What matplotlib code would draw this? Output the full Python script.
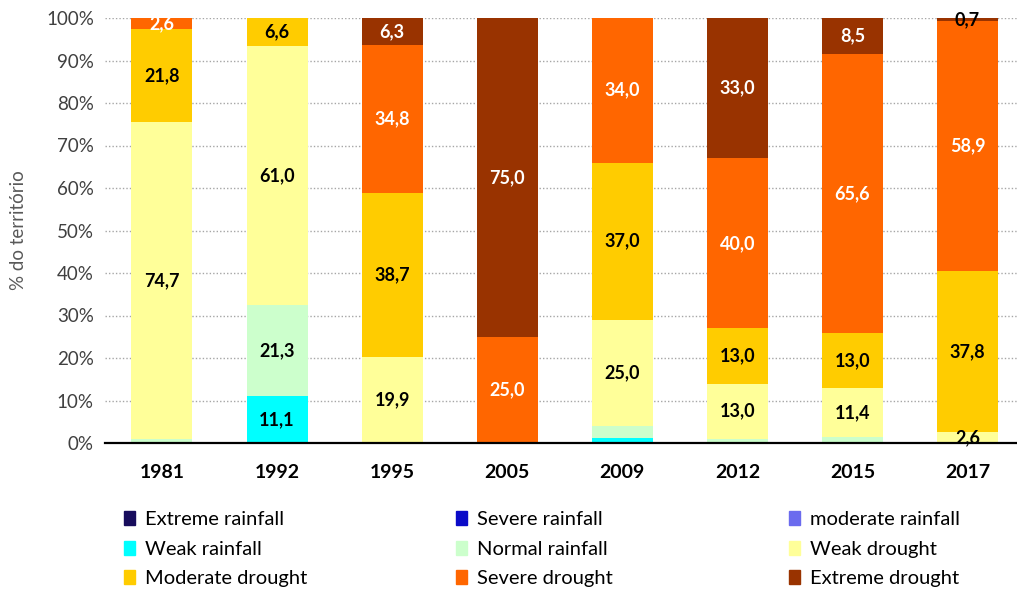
import matplotlib
matplotlib.use("Agg")
import matplotlib.pyplot as plt
import matplotlib.patches as mpatches
import numpy as np

plt.rcParams["font.family"] = ["Lato", "DejaVu Sans"]

years = ["1981", "1992", "1995", "2005", "2009", "2012", "2015", "2017"]

categories = ["Extreme rainfall", "Severe rainfall", "moderate rainfall",
              "Weak rainfall", "Normal rainfall", "Weak drought",
              "Moderate drought", "Severe drought", "Extreme drought"]

extreme_rainfall = [0, 0, 0, 0, 0, 0, 0, 0]
severe_rainfall = [0, 0, 0, 0, 0, 0, 0, 0]
moderate_rainfall = [0, 0, 0, 0, 0, 0, 0, 0]
weak_rainfall = [0, 11.1, 0, 0, 1.2, 0, 0, 0]
normal_rainfall = [0.9, 21.3, 0.3, 0, 2.8, 1.0, 1.5, 0]
weak_drought = [74.7, 61.0, 19.9, 0, 25.0, 13.0, 11.4, 2.6]
moderate_drought = [21.8, 6.6, 38.7, 0, 37.0, 13.0, 13.0, 37.8]
severe_drought = [2.6, 0, 34.8, 25.0, 34.0, 40.0, 65.6, 58.9]
extreme_drought = [0, 0, 6.3, 75.0, 0, 33.0, 8.5, 0.7]

series = [extreme_rainfall, severe_rainfall, moderate_rainfall, weak_rainfall,
          normal_rainfall, weak_drought, moderate_drought, severe_drought,
          extreme_drought]

colors = ["#170C5C", "#0B0BC8", "#6B6BEE", "#00FFFF", "#CCFFCC",
          "#FFFF99", "#FFCC00", "#FF6600", "#993300"]
label_colors = ["white", "white", "white", "black", "black",
                "black", "black", "white", "white"]

fig = plt.figure(figsize=(10.17, 5.9), dpi=100)
ax = fig.add_axes([105 / 1017, 1 - 443 / 590, 1 - 105 / 1017, 425 / 590])

x = np.arange(len(years))
bottom = np.zeros(len(years))
for k, (name, vals, col, lcol) in enumerate(zip(categories, series, colors,
                                                 label_colors)):
    vals = np.array(vals, dtype=float)
    ax.bar(x, vals, bottom=bottom, width=0.53, color=col, zorder=2)
    for xi, b, v in zip(x, bottom, vals):
        # small rainfall slices are left unlabelled
        if k < 5:
            show = v >= 5
        else:
            show = v > 0
        if show:
            tc = "black" if v < 1 else lcol
            ax.text(xi, b + v / 2, f"{v:.1f}".replace(".", ","),
                    ha="center", va="center", fontsize=13,
                    fontweight="bold", color=tc, zorder=3)
    bottom += vals

ax.set_xlim(-0.495, 7.43)
ax.set_ylim(0, 100)
ax.set_yticks(range(0, 101, 10))
ax.set_yticklabels([f"{t}%" for t in range(0, 101, 10)], fontsize=13.5,
                   color="#404040")
ax.set_xticks(x)
ax.set_xticklabels(years, fontsize=14, fontweight="bold", color="black")
ax.tick_params(length=0)
ax.tick_params(axis="x", pad=15)
ax.tick_params(axis="y", pad=8)
ax.grid(axis="y", color="#A6A6A6", linestyle=(0, (1, 1.5)), linewidth=1,
        zorder=0)
for s in ["top", "right", "left"]:
    ax.spines[s].set_visible(False)
ax.spines["bottom"].set_color("black")
ax.spines["bottom"].set_linewidth(1.6)
ax.spines["bottom"].set_zorder(4)
ax.set_ylabel("% do território", fontsize=13.5, color="#595959", labelpad=14)

# legend: three columns placed at fixed positions
handles = [mpatches.Patch(color=c, label=n) for n, c in zip(categories, colors)]
col_x = [124, 456, 789]
for i, cx in enumerate(col_x):
    hs = [handles[i], handles[i + 3], handles[i + 6]]
    fig.legend(handles=hs, loc="upper left",
               bbox_to_anchor=(cx / 1017, 1 - 511 / 590), frameon=False,
               fontsize=14.5, handlelength=0.55, handleheight=0.7,
               handletextpad=0.5, labelspacing=0.62, borderpad=0,
               borderaxespad=0)

fig.savefig("out.png", dpi=100)
plt.close(fig)
